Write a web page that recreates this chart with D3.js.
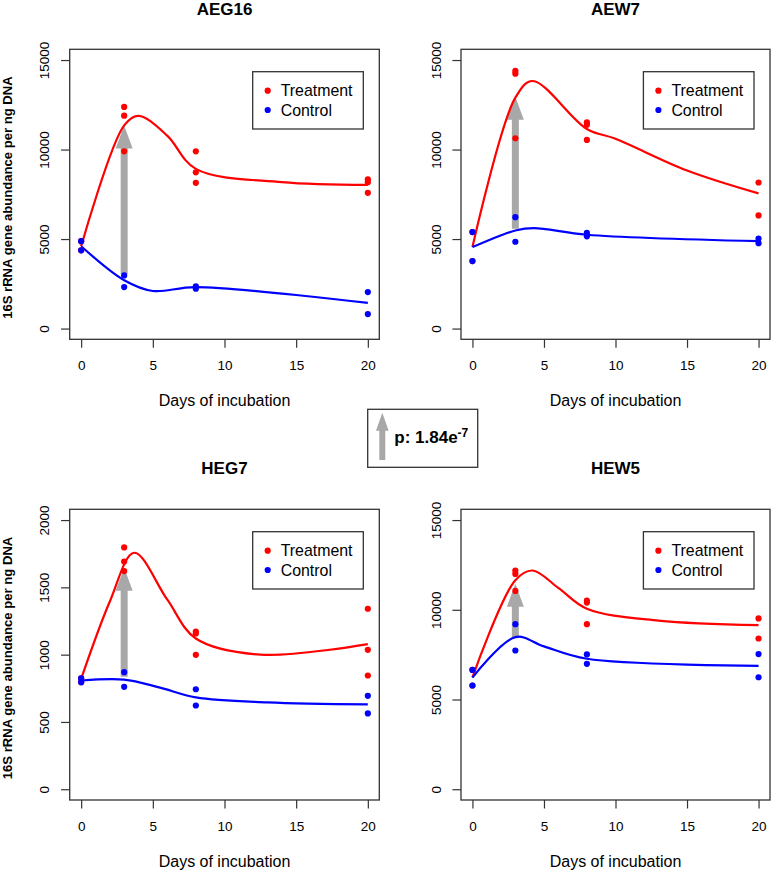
<!DOCTYPE html>
<html><head><meta charset="utf-8">
<script src="https://cdn.jsdelivr.net/npm/d3@7"></script>
<style>
body{margin:0;background:#fff}
svg{display:block}
text{font-family:"Liberation Sans",Arial,Helvetica,sans-serif}
</style>
</head><body>
<script>
// ---------------- data ----------------
const panelTitles = ["AEG16", "AEW7", "HEG7", "HEW5"];
const seriesNames = ["Treatment", "Control"];
const seriesColors = ["#FF0000", "#0000FF"];
const dayTicks = [0, 5, 10, 15, 20];
const yTicksLarge = [0, 5000, 10000, 15000];
const yTicksSmall = [0, 500, 1000, 1500, 2000];
const yMaxes = [15000, 15000, 2000, 15000];
const xLabel = "Days of incubation";
const yLabel = "16S rRNA gene abundance per ng DNA";
const pLabel = "p: 1.84e";
const pExponent = "-7";

// replicate points [day, value]
const aeg16Treatment = [[0,4880],[0,4370],[3,12380],[3,11890],[3,9900],[8,9900],[8,8730],[8,8140],[20,8330],[20,8180],[20,7580]];
const aeg16Control   = [[0,4880],[0,4370],[3,2970],[3,2320],[8,2360],[8,2230],[20,2040],[20,810]];
const aew7Treatment  = [[0,5390],[0,3770],[3,14390],[3,14240],[3,10630],[8,11520],[8,11380],[8,10540],[20,8160],[20,6320]];
const aew7Control    = [[0,5390],[0,3770],[3,6220],[3,4850],[8,5350],[8,5150],[20,5030],[20,4770]];
const heg7Treatment  = [[0,823],[0,795],[3,1797],[3,1692],[3,1621],[8,1172],[8,1157],[8,999],[20,1341],[20,1036],[20,845]];
const heg7Control    = [[0,823],[0,795],[3,870],[3,761],[8,743],[8,622],[20,694],[20,563]];
const hew5Treatment  = [[0,6650],[0,5780],[3,12190],[3,12000],[3,11050],[8,10510],[8,10400],[8,9200],[20,9520],[20,8400]];
const hew5Control    = [[0,6650],[0,5780],[3,9200],[3,7730],[8,7510],[8,6990],[20,7530],[20,6240]];

// fitted curves [day, value]
const aeg16FitTreatment = [[0,4600],[3,11350],[4,11880],[6,10780],[8,8920],[14,8180],[20,8030]];
const aeg16FitControl   = [[0,4600],[3,2700],[5,2100],[8,2320],[20,1430]];
const aew7FitTreatment  = [[0,4550],[3,12900],[4.2,13830],[8,11150],[10,10600],[15,8830],[20,7550]];
const aew7FitControl    = [[0,4550],[3,5480],[4.3,5610],[8,5240],[20,4880]];
const heg7FitTreatment  = [[0,820],[2,1395],[3.7,1757],[6,1410],[8,1120],[12.5,1000],[20,1078]];
const heg7FitControl    = [[0,808],[3,815],[5.5,755],[8,683],[13,645],[20,630]];
const hew5FitTreatment  = [[0,6240],[3,11650],[4.2,12190],[6,11220],[8,10060],[13,9400],[20,9150]];
const hew5FitControl    = [[0,6220],[3,8480],[5,7960],[8,7270],[20,6880]];

// gray arrows at day 3 [from, to]
const arrowDay = 3;
const aeg16Arrow = [3050, 11350];
const aew7Arrow  = [5580, 12950];
const heg7Arrow  = [835, 1645];
const hew5Arrow  = [8420, 11450];

const panelData = [
  {title: panelTitles[0], treat: aeg16Treatment, ctrl: aeg16Control, fitT: aeg16FitTreatment, fitC: aeg16FitControl, arrow: aeg16Arrow, yMax: yMaxes[0], yTicks: yTicksLarge},
  {title: panelTitles[1], treat: aew7Treatment,  ctrl: aew7Control,  fitT: aew7FitTreatment,  fitC: aew7FitControl,  arrow: aew7Arrow,  yMax: yMaxes[1], yTicks: yTicksLarge},
  {title: panelTitles[2], treat: heg7Treatment,  ctrl: heg7Control,  fitT: heg7FitTreatment,  fitC: heg7FitControl,  arrow: heg7Arrow,  yMax: yMaxes[2], yTicks: yTicksSmall},
  {title: panelTitles[3], treat: hew5Treatment,  ctrl: hew5Control,  fitT: hew5FitTreatment,  fitC: hew5FitControl,  arrow: hew5Arrow,  yMax: yMaxes[3], yTicks: yTicksLarge}
];

// ---------------- layout ----------------
const W = 771, H = 870;
const boxes = [
  {x0: 69.7, x1: 379.3, y0: 49.3, y1: 339.3, ylab: true,  titleY: 15.4},
  {x0: 461,  x1: 770,   y0: 49.3, y1: 339.3, ylab: false, titleY: 15.4},
  {x0: 69.7, x1: 379.3, y0: 509.3, y1: 800, ylab: true,  titleY: 474},
  {x0: 461,  x1: 770,   y0: 509.3, y1: 800, ylab: false, titleY: 474}
];
const frameColor = "#333";
const arrowColor = "#A8A8A8";

const svg = d3.select("body").append("svg").attr("width", W).attr("height", H);
svg.append("rect").attr("width", W).attr("height", H).attr("fill", "#fff");

panelData.forEach((p, i) => {
  const b = boxes[i];
  const x = d3.scaleLinear().domain([-0.8, 20.8]).range([b.x0, b.x1]);
  const y = d3.scaleLinear().domain([-0.04 * p.yMax, 1.04 * p.yMax]).range([b.y1, b.y0]);
  const g = svg.append("g");

  // arrow
  const ax = x(arrowDay), yb = y(p.arrow[0]), yt = y(p.arrow[1]);
  const shaftW = 7, headW = 17, headL = 23;
  g.append("path")
    .attr("d", `M${ax - shaftW/2},${yb} L${ax - shaftW/2},${yt + headL} L${ax - headW/2},${yt + headL} L${ax},${yt} L${ax + headW/2},${yt + headL} L${ax + shaftW/2},${yt + headL} L${ax + shaftW/2},${yb} Z`)
    .attr("fill", arrowColor);

  // fitted curves
  const line = d3.line().x(d => x(d[0])).y(d => y(d[1])).curve(d3.curveCatmullRom.alpha(0.5));
  [p.fitT, p.fitC].forEach((f, k) => {
    g.append("path").attr("d", line(f)).attr("fill", "none")
      .attr("stroke", seriesColors[k]).attr("stroke-width", 2.2);
  });

  // points
  [p.treat, p.ctrl].forEach((pts, k) => {
    g.selectAll(null).data(pts).enter().append("circle")
      .attr("cx", d => x(d[0])).attr("cy", d => y(d[1])).attr("r", 3.1)
      .attr("fill", seriesColors[k]);
  });

  // frame
  g.append("rect").attr("x", b.x0).attr("y", b.y0).attr("width", b.x1 - b.x0).attr("height", b.y1 - b.y0)
    .attr("fill", "none").attr("stroke", frameColor).attr("stroke-width", 1.3);

  // x axis
  const xa = g.append("g").attr("transform", `translate(0,${b.y1})`)
    .call(d3.axisBottom(x).tickValues(dayTicks).tickSize(8.5).tickFormat(d3.format("d")));
  xa.select(".domain").remove();
  xa.selectAll("line").attr("stroke", frameColor).attr("stroke-width", 1.2);
  xa.selectAll("text").attr("y", 31).attr("dy", 0).attr("fill", "#000")
    .attr("font-size", 13.5).attr("font-family", '"Liberation Sans",Arial,sans-serif');

  // y axis
  const ya = g.append("g").attr("transform", `translate(${b.x0},0)`)
    .call(d3.axisLeft(y).tickValues(p.yTicks).tickSize(8.6).tickFormat(d3.format("d")));
  ya.select(".domain").remove();
  ya.selectAll("line").attr("stroke", frameColor).attr("stroke-width", 1.2);
  ya.selectAll("text").attr("x", 0).attr("dy", 0).attr("text-anchor", "middle")
    .attr("transform", "translate(-20.5,0) rotate(-90)").attr("fill", "#000")
    .attr("font-size", 13.5).attr("font-family", '"Liberation Sans",Arial,sans-serif');

  // title
  g.append("text").attr("x", (b.x0 + b.x1) / 2).attr("y", b.titleY)
    .attr("text-anchor", "middle").attr("font-weight", "bold").attr("font-size", 17)
    .text(p.title);

  // x label
  g.append("text").attr("x", (b.x0 + b.x1) / 2).attr("y", b.y1 + 66.5)
    .attr("text-anchor", "middle").attr("font-size", 16).text(xLabel);

  // y label
  if (b.ylab) {
    g.append("text").attr("transform", `translate(12,${(b.y0 + b.y1) / 2 + 3.3}) rotate(-90)`)
      .attr("text-anchor", "middle").attr("font-weight", "bold").attr("font-size", 13.1)
      .text(yLabel);
  }

  // legend
  const lw = 110.6, lh = 57.3;
  const lx = b.x1 - 16 - lw, ly = b.y0 + 22.4;
  g.append("rect").attr("x", lx).attr("y", ly).attr("width", lw).attr("height", lh)
    .attr("fill", "#fff").attr("stroke", frameColor).attr("stroke-width", 1.3);
  seriesNames.forEach((name, k) => {
    const cy = ly + 19 + k * 19.3;
    g.append("circle").attr("cx", lx + 15).attr("cy", cy).attr("r", 3.1).attr("fill", seriesColors[k]);
    g.append("text").attr("x", lx + 28).attr("y", cy + 5.7).attr("font-size", 15.9).text(name);
  });
});

// central p-value box
const mg = svg.append("g");
mg.append("rect").attr("x", 367.7).attr("y", 409.3).attr("width", 110).attr("height", 58)
  .attr("fill", "#fff").attr("stroke", frameColor).attr("stroke-width", 1.3);
{
  const ax = 382.3, yb = 460, yt = 412.7, sw = 6, hw = 12.7, hl = 18;
  mg.append("path")
    .attr("d", `M${ax - sw/2},${yb} L${ax - sw/2},${yt + hl} L${ax - hw/2},${yt + hl} L${ax},${yt} L${ax + hw/2},${yt + hl} L${ax + sw/2},${yt + hl} L${ax + sw/2},${yb} Z`)
    .attr("fill", arrowColor);
}
const pt = mg.append("text").attr("x", 394.3).attr("y", 443.3).attr("font-weight", "bold").attr("font-size", 17);
pt.append("tspan").text(pLabel);
pt.append("tspan").attr("font-size", 12).attr("dy", -6.5).text(pExponent);
</script>
</body></html>
